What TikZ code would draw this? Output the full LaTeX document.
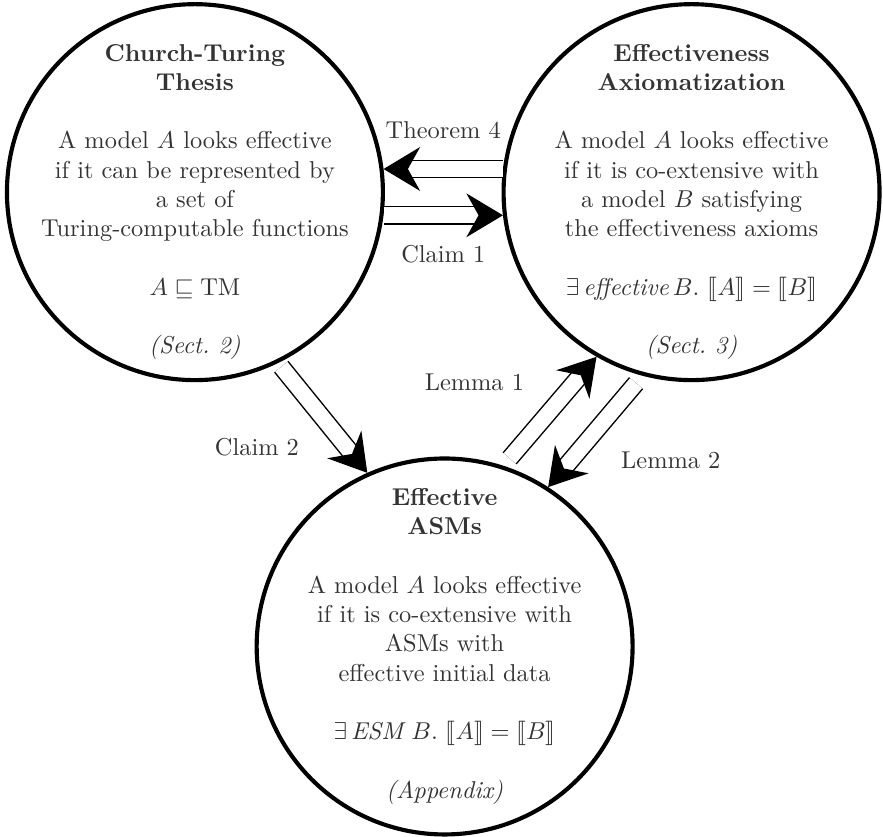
\documentclass[tikz,border=0pt]{standalone}
\usepackage{stmaryrd}
\usetikzlibrary{arrows.meta}
\tikzset{
  model/.style={circle, draw, line width=1.7pt, minimum size=5.42cm, inner sep=0pt},
  modeltext/.style={align=center, text=black!80},
  implies/.style={double, double distance=6.4pt, line width=0.6pt,
                  -{Stealth[length=15pt, width=18pt, inset=5pt]}},
  lbl/.style={text=black!80}
}

\begin{document}
\begin{tikzpicture}
  \useasboundingbox (0,0) rectangle (12.73,-12.06);
  % the three notions of effectiveness
  \node[model] (CT) at (2.81,-2.77) {};
  \node[model] (EA) at (9.97,-2.77) {};
  \node[model] (ASM) at (6.41,-9.32) {};
  \node[modeltext, yshift=-4pt] (CTtext) at (CT)
    {\textbf{Church-Turing}\\ \textbf{Thesis}\\[\baselineskip]
     A model $A$ looks effective\\ if it can be represented by\\
     a set of\\ Turing-computable functions\\[\baselineskip]
     $A \sqsubseteq \mathrm{TM}$\\[\baselineskip]
     \textit{(Sect.~2)}};
  \node[modeltext, yshift=-4pt] (EAtext) at (EA)
    {\textbf{Effectiveness}\\ \textbf{Axiomatization}\\[\baselineskip]
     A model $A$ looks effective\\ if it is co-extensive with\\
     a model $B$ satisfying\\ the effectiveness axioms\\[\baselineskip]
     $\exists\,\textit{effective}\,B.\ \llbracket A\rrbracket = \llbracket B\rrbracket$\\[\baselineskip]
     \textit{(Sect.~3)}};
  \node[modeltext] (ASMtext) at (ASM)
    {\textbf{Effective}\\ \textbf{ASMs}\\[\baselineskip]
     A model $A$ looks effective\\ if it is co-extensive with\\
     ASMs with\\ effective initial data\\[\baselineskip]
     $\exists\,\mathit{ESM}\,B.\ \llbracket A\rrbracket = \llbracket B\rrbracket$\\[\baselineskip]
     \textit{(Appendix)}};
  % implications between them
  \draw[implies] (EA.173) -- node[lbl, midway, yshift=16pt] (thm4) {Theorem 4} (CT.7);
  \draw[implies] (CT.-7) -- node[lbl, midway, yshift=-16pt] (cl1) {Claim 1} (EA.-173);
  \draw[implies, shorten <=2pt] (CT.-64) -- node[lbl, midway, xshift=-27pt, yshift=-12pt] (cl2) {Claim 2} (ASM.114);
  \draw[implies, shorten <=4pt] (ASM.72) -- node[lbl, midway, xshift=-31pt, yshift=12pt] (lem1) {Lemma 1} (EA.-120);
  \draw[implies, shorten <=4pt] (EA.-105) -- node[lbl, midway, xshift=31pt, yshift=-12pt] (lem2) {Lemma 2} (ASM.57);
\end{tikzpicture}
\end{document}
